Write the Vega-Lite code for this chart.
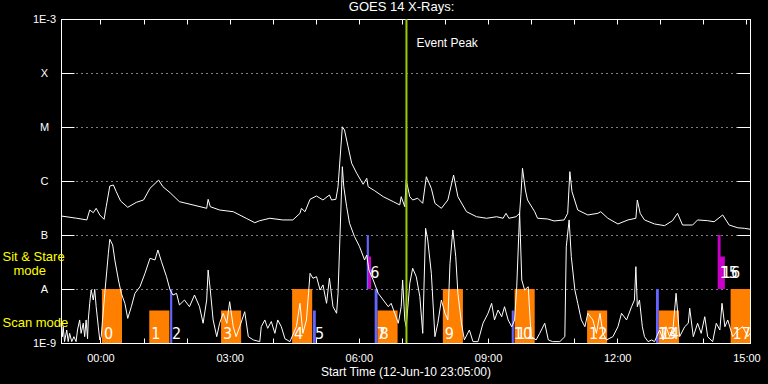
{
"$schema":"https://vega.github.io/schema/vega-lite/v6.json",
"autosize":{"type":"none"},
"padding":{"left":61,"top":19,"right":18,"bottom":41},
"width":689,"height":324,
"background":"black",
"title":{"text":"GOES 14 X-Rays:","color":"white","font":"Liberation Sans","fontSize":13,"fontWeight":"normal","anchor":"middle","frame":"group","offset":-11,"baseline":"alphabetic","dx":-4},
"config":{
 "view":{"stroke":"white","strokeWidth":1},
 "axis":{"domainColor":"white","tickColor":"white","labelColor":"white","titleColor":"white","labelFont":"Liberation Sans","titleFont":"Liberation Sans","labelFontSize":11,"titleFontWeight":"normal","gridColor":"white","gridDash":[1,4],"gridOpacity":1,"zindex":1,"labelOverlap":false,"labelFlush":false}
},
"datasets":{
"long":[
{"t":"2010-06-12T23:05Z","v":2.25e-7},{"t":"2010-06-12T23:27Z","v":2.04e-7},{"t":"2010-06-12T23:41Z","v":1.9e-7},{"t":"2010-06-12T23:45Z","v":2.9e-7},{"t":"2010-06-12T23:50Z","v":2.59e-7},{"t":"2010-06-12T23:54Z","v":3.12e-7},{"t":"2010-06-12T23:59Z","v":2.35e-7},
{"t":"2010-06-13T00:05Z","v":1.95e-7},{"t":"2010-06-13T00:08Z","v":3.34e-7},{"t":"2010-06-13T00:13Z","v":8.07e-7},{"t":"2010-06-13T00:18Z","v":8.43e-7},{"t":"2010-06-13T00:22Z","v":6.34e-7},{"t":"2010-06-13T00:28Z","v":4.27e-7},{"t":"2010-06-13T00:38Z","v":3.26e-7},{"t":"2010-06-13T00:50Z","v":4.03e-7},
{"t":"2010-06-13T01:00Z","v":4.45e-7},{"t":"2010-06-13T01:09Z","v":7.32e-7},{"t":"2010-06-13T01:21Z","v":1.04e-6},{"t":"2010-06-13T01:27Z","v":7.84e-7},{"t":"2010-06-13T01:37Z","v":6.07e-7},{"t":"2010-06-13T01:50Z","v":4.14e-7},
{"t":"2010-06-13T02:09Z","v":3.6e-7},{"t":"2010-06-13T02:28Z","v":3.12e-7},{"t":"2010-06-13T02:30Z","v":4.58e-7},{"t":"2010-06-13T02:33Z","v":3.34e-7},{"t":"2010-06-13T02:46Z","v":2.9e-7},
{"t":"2010-06-13T03:05Z","v":2.7e-7},{"t":"2010-06-13T03:23Z","v":2.04e-7},{"t":"2010-06-13T03:35Z","v":1.69e-7},{"t":"2010-06-13T03:42Z","v":1.84e-7},{"t":"2010-06-13T03:56Z","v":2.04e-7},
{"t":"2010-06-13T04:14Z","v":1.9e-7},{"t":"2010-06-13T04:28Z","v":1.9e-7},{"t":"2010-06-13T04:38Z","v":2.52e-7},{"t":"2010-06-13T04:40Z","v":3.12e-7},{"t":"2010-06-13T04:45Z","v":2.7e-7},{"t":"2010-06-13T04:52Z","v":4.58e-7},
{"t":"2010-06-13T05:01Z","v":5.27e-7},{"t":"2010-06-13T05:10Z","v":4.45e-7},{"t":"2010-06-13T05:19Z","v":5.51e-7},{"t":"2010-06-13T05:22Z","v":4.45e-7},{"t":"2010-06-13T05:28Z","v":4.58e-7},{"t":"2010-06-13T05:31Z","v":7.84e-7},{"t":"2010-06-13T05:37Z","v":1.01e-5},{"t":"2010-06-13T05:40Z","v":8.8e-6},{"t":"2010-06-13T05:45Z","v":4.31e-6},{"t":"2010-06-13T05:50Z","v":2.13e-6},{"t":"2010-06-13T05:57Z","v":1.39e-6},
{"t":"2010-06-13T06:06Z","v":8.69e-7},{"t":"2010-06-13T06:11Z","v":1.12e-6},{"t":"2010-06-13T06:13Z","v":7.84e-7},{"t":"2010-06-13T06:22Z","v":6.61e-7},{"t":"2010-06-13T06:34Z","v":5.12e-7},{"t":"2010-06-13T06:48Z","v":4.14e-7},{"t":"2010-06-13T06:57Z","v":3.6e-7},{"t":"2010-06-13T06:59Z","v":5.12e-7},
{"t":"2010-06-13T07:04Z","v":3.34e-7},{"t":"2010-06-13T07:06Z","v":1.04e-6},{"t":"2010-06-13T07:11Z","v":5.12e-7},{"t":"2010-06-13T07:15Z","v":4.45e-7},{"t":"2010-06-13T07:22Z","v":4.79e-7},{"t":"2010-06-13T07:29Z","v":3.86e-7},{"t":"2010-06-13T07:34Z","v":1.2e-6},{"t":"2010-06-13T07:41Z","v":7.32e-7},{"t":"2010-06-13T07:46Z","v":3.86e-7},{"t":"2010-06-13T07:55Z","v":3.12e-7},
{"t":"2010-06-13T08:04Z","v":4.45e-7},{"t":"2010-06-13T08:12Z","v":1.29e-6},{"t":"2010-06-13T08:18Z","v":5.12e-7},{"t":"2010-06-13T08:30Z","v":2.7e-7},{"t":"2010-06-13T08:44Z","v":2.18e-7},{"t":"2010-06-13T08:58Z","v":2.04e-7},
{"t":"2010-06-13T09:12Z","v":2.18e-7},{"t":"2010-06-13T09:21Z","v":2.04e-7},{"t":"2010-06-13T09:25Z","v":2.52e-7},{"t":"2010-06-13T09:29Z","v":2.04e-7},{"t":"2010-06-13T09:39Z","v":2.18e-7},{"t":"2010-06-13T09:44Z","v":2.52e-7},{"t":"2010-06-13T09:46Z","v":5.91e-7},{"t":"2010-06-13T09:48Z","v":1.72e-6},{"t":"2010-06-13T09:52Z","v":6.81e-7},{"t":"2010-06-13T09:55Z","v":4.45e-7},
{"t":"2010-06-13T10:05Z","v":2.7e-7},{"t":"2010-06-13T10:09Z","v":2.04e-7},{"t":"2010-06-13T10:23Z","v":1.98e-7},{"t":"2010-06-13T10:32Z","v":1.82e-7},{"t":"2010-06-13T10:46Z","v":1.9e-7},{"t":"2010-06-13T10:51Z","v":2.52e-7},{"t":"2010-06-13T10:54Z","v":1.49e-6},{"t":"2010-06-13T10:57Z","v":6.34e-7},
{"t":"2010-06-13T11:05Z","v":2.9e-7},{"t":"2010-06-13T11:19Z","v":2.35e-7},{"t":"2010-06-13T11:33Z","v":2.52e-7},{"t":"2010-06-13T11:37Z","v":2.7e-7},{"t":"2010-06-13T11:47Z","v":2.04e-7},
{"t":"2010-06-13T12:01Z","v":1.6e-7},{"t":"2010-06-13T12:15Z","v":1.9e-7},{"t":"2010-06-13T12:26Z","v":2.04e-7},{"t":"2010-06-13T12:28Z","v":4.45e-7},{"t":"2010-06-13T12:32Z","v":2.52e-7},{"t":"2010-06-13T12:38Z","v":1.9e-7},{"t":"2010-06-13T12:52Z","v":1.6e-7},
{"t":"2010-06-13T13:06Z","v":1.49e-7},{"t":"2010-06-13T13:17Z","v":1.84e-7},{"t":"2010-06-13T13:24Z","v":2.52e-7},{"t":"2010-06-13T13:31Z","v":1.53e-7},{"t":"2010-06-13T13:45Z","v":1.53e-7},{"t":"2010-06-13T13:52Z","v":1.9e-7},
{"t":"2010-06-13T14:06Z","v":1.84e-7},{"t":"2010-06-13T14:15Z","v":1.76e-7},{"t":"2010-06-13T14:27Z","v":2.35e-7},{"t":"2010-06-13T14:36Z","v":1.53e-7},{"t":"2010-06-13T14:48Z","v":1.36e-7},{"t":"2010-06-13T14:57Z","v":1.33e-7},{"t":"2010-06-13T15:05Z","v":1.28e-7}
],
"short":[
{"t":"2010-06-12T23:05Z","v":2.32e-9},{"t":"2010-06-12T23:07Z","v":1.31e-9},{"t":"2010-06-12T23:08Z","v":2.0e-9},{"t":"2010-06-12T23:10Z","v":1.06e-9},{"t":"2010-06-12T23:13Z","v":1.74e-9},{"t":"2010-06-12T23:15Z","v":1.06e-9},{"t":"2010-06-12T23:17Z","v":1.51e-9},{"t":"2010-06-12T23:20Z","v":1.06e-9},{"t":"2010-06-12T23:23Z","v":1.31e-9},{"t":"2010-06-12T23:26Z","v":1.06e-9},{"t":"2010-06-12T23:28Z","v":1.74e-9},{"t":"2010-06-12T23:31Z","v":2.67e-9},{"t":"2010-06-12T23:33Z","v":1.51e-9},{"t":"2010-06-12T23:36Z","v":2.32e-9},{"t":"2010-06-12T23:38Z","v":1.31e-9},{"t":"2010-06-12T23:40Z","v":2.67e-9},{"t":"2010-06-12T23:42Z","v":1.2e-9},{"t":"2010-06-12T23:43Z","v":2.67e-9},{"t":"2010-06-12T23:45Z","v":5.43e-9},{"t":"2010-06-12T23:47Z","v":9.58e-9},{"t":"2010-06-12T23:50Z","v":6.25e-9},{"t":"2010-06-12T23:52Z","v":9.87e-9},{"t":"2010-06-12T23:54Z","v":4.7e-9},{"t":"2010-06-12T23:57Z","v":2.0e-9},{"t":"2010-06-12T23:59Z","v":1.14e-9},
{"t":"2010-06-13T00:01Z","v":1.31e-9},{"t":"2010-06-13T00:06Z","v":8.32e-9},{"t":"2010-06-13T00:11Z","v":4.58e-8},{"t":"2010-06-13T00:13Z","v":8.32e-8},{"t":"2010-06-13T00:17Z","v":6.53e-8},{"t":"2010-06-13T00:20Z","v":3.45e-8},{"t":"2010-06-13T00:25Z","v":1.47e-8},{"t":"2010-06-13T00:29Z","v":8.32e-9},{"t":"2010-06-13T00:34Z","v":5.43e-9},{"t":"2010-06-13T00:38Z","v":2.86e-9},{"t":"2010-06-13T00:43Z","v":4.7e-9},{"t":"2010-06-13T00:48Z","v":8.32e-9},{"t":"2010-06-13T00:55Z","v":1.1e-8},
{"t":"2010-06-13T01:02Z","v":1.95e-8},{"t":"2010-06-13T01:09Z","v":3.7e-8},{"t":"2010-06-13T01:16Z","v":3.45e-8},{"t":"2010-06-13T01:20Z","v":5.27e-8},{"t":"2010-06-13T01:25Z","v":3.21e-8},{"t":"2010-06-13T01:32Z","v":1.69e-8},{"t":"2010-06-13T01:37Z","v":9.58e-9},{"t":"2010-06-13T01:41Z","v":7.74e-9},{"t":"2010-06-13T01:46Z","v":8.32e-9},{"t":"2010-06-13T01:50Z","v":5.06e-9},{"t":"2010-06-13T01:57Z","v":6.25e-9},
{"t":"2010-06-13T02:04Z","v":4.7e-9},{"t":"2010-06-13T02:11Z","v":7.74e-9},{"t":"2010-06-13T02:18Z","v":4.7e-9},{"t":"2010-06-13T02:23Z","v":2.32e-9},{"t":"2010-06-13T02:28Z","v":6.25e-9},{"t":"2010-06-13T02:30Z","v":2.25e-8},{"t":"2010-06-13T02:33Z","v":9.58e-9},{"t":"2010-06-13T02:37Z","v":2.67e-9},{"t":"2010-06-13T02:42Z","v":1.31e-9},{"t":"2010-06-13T02:46Z","v":2.32e-9},{"t":"2010-06-13T02:51Z","v":3.55e-9},{"t":"2010-06-13T02:56Z","v":2.32e-9},
{"t":"2010-06-13T03:00Z","v":5.82e-9},{"t":"2010-06-13T03:05Z","v":2.0e-9},{"t":"2010-06-13T03:09Z","v":1.31e-9},{"t":"2010-06-13T03:14Z","v":2.0e-9},{"t":"2010-06-13T03:21Z","v":3.8e-9},{"t":"2010-06-13T03:26Z","v":1.31e-9},{"t":"2010-06-13T03:33Z","v":1.14e-9},{"t":"2010-06-13T03:42Z","v":1.06e-9},{"t":"2010-06-13T03:44Z","v":2.0e-9},{"t":"2010-06-13T03:49Z","v":2.67e-9},{"t":"2010-06-13T03:53Z","v":1.87e-9},{"t":"2010-06-13T03:58Z","v":2.5e-9},
{"t":"2010-06-13T04:03Z","v":1.51e-9},{"t":"2010-06-13T04:07Z","v":2.67e-9},{"t":"2010-06-13T04:12Z","v":2.0e-9},{"t":"2010-06-13T04:17Z","v":1.2e-9},{"t":"2010-06-13T04:24Z","v":1.06e-9},{"t":"2010-06-13T04:33Z","v":2.0e-9},{"t":"2010-06-13T04:38Z","v":5.43e-9},{"t":"2010-06-13T04:42Z","v":1.51e-9},{"t":"2010-06-13T04:47Z","v":2.67e-9},{"t":"2010-06-13T04:52Z","v":1.95e-8},{"t":"2010-06-13T04:56Z","v":1.58e-8},
{"t":"2010-06-13T05:01Z","v":1.69e-8},{"t":"2010-06-13T05:06Z","v":9.58e-9},{"t":"2010-06-13T05:10Z","v":1.19e-8},{"t":"2010-06-13T05:15Z","v":5.43e-9},{"t":"2010-06-13T05:19Z","v":1.58e-8},{"t":"2010-06-13T05:24Z","v":4.7e-9},{"t":"2010-06-13T05:29Z","v":3.55e-9},{"t":"2010-06-13T05:31Z","v":8.32e-9},{"t":"2010-06-13T05:34Z","v":1.24e-7},{"t":"2010-06-13T05:37Z","v":1.84e-6},{"t":"2010-06-13T05:39Z","v":7.84e-7},{"t":"2010-06-13T05:43Z","v":3.34e-7},{"t":"2010-06-13T05:47Z","v":1.65e-7},{"t":"2010-06-13T05:54Z","v":9.3e-8},
{"t":"2010-06-13T06:01Z","v":6.07e-8},{"t":"2010-06-13T06:08Z","v":3.45e-8},{"t":"2010-06-13T06:11Z","v":4.26e-8},{"t":"2010-06-13T06:14Z","v":2.25e-8},{"t":"2010-06-13T06:20Z","v":1.47e-8},{"t":"2010-06-13T06:27Z","v":8.32e-9},{"t":"2010-06-13T06:34Z","v":6.25e-9},{"t":"2010-06-13T06:41Z","v":4.7e-9},{"t":"2010-06-13T06:45Z","v":5.43e-9},{"t":"2010-06-13T06:50Z","v":3.55e-9},{"t":"2010-06-13T06:55Z","v":2.32e-9},{"t":"2010-06-13T06:59Z","v":4.7e-9},
{"t":"2010-06-13T07:01Z","v":1.47e-8},{"t":"2010-06-13T07:04Z","v":2.67e-9},{"t":"2010-06-13T07:06Z","v":2.0e-9},{"t":"2010-06-13T07:11Z","v":1.28e-8},{"t":"2010-06-13T07:15Z","v":2.42e-8},{"t":"2010-06-13T07:20Z","v":1.69e-8},{"t":"2010-06-13T07:25Z","v":7.2e-9},{"t":"2010-06-13T07:29Z","v":1.51e-9},{"t":"2010-06-13T07:33Z","v":1.33e-7},{"t":"2010-06-13T07:36Z","v":8.07e-8},{"t":"2010-06-13T07:41Z","v":1.95e-8},{"t":"2010-06-13T07:46Z","v":1.31e-9},{"t":"2010-06-13T07:50Z","v":2.32e-9},{"t":"2010-06-13T07:55Z","v":6.25e-9},
{"t":"2010-06-13T08:00Z","v":3.55e-9},{"t":"2010-06-13T08:04Z","v":2.67e-9},{"t":"2010-06-13T08:07Z","v":2.99e-8},{"t":"2010-06-13T08:11Z","v":1.24e-7},{"t":"2010-06-13T08:15Z","v":3.97e-8},{"t":"2010-06-13T08:18Z","v":8.32e-9},{"t":"2010-06-13T08:23Z","v":2.32e-9},{"t":"2010-06-13T08:27Z","v":1.14e-9},{"t":"2010-06-13T08:34Z","v":1.74e-9},{"t":"2010-06-13T08:39Z","v":1.06e-9},{"t":"2010-06-13T08:46Z","v":1.06e-9},{"t":"2010-06-13T08:53Z","v":2.32e-9},
{"t":"2010-06-13T09:00Z","v":3.55e-9},{"t":"2010-06-13T09:05Z","v":5.43e-9},{"t":"2010-06-13T09:09Z","v":2.67e-9},{"t":"2010-06-13T09:14Z","v":4.08e-9},{"t":"2010-06-13T09:19Z","v":3.07e-9},{"t":"2010-06-13T09:23Z","v":4.7e-9},{"t":"2010-06-13T09:28Z","v":2.67e-9},{"t":"2010-06-13T09:33Z","v":2.0e-9},{"t":"2010-06-13T09:37Z","v":2.67e-9},{"t":"2010-06-13T09:40Z","v":1.1e-8},{"t":"2010-06-13T09:44Z","v":2.6e-7},{"t":"2010-06-13T09:47Z","v":1.47e-8},{"t":"2010-06-13T09:51Z","v":9.58e-9},{"t":"2010-06-13T09:56Z","v":1.1e-8},
{"t":"2010-06-13T10:00Z","v":1.31e-9},{"t":"2010-06-13T10:07Z","v":1.14e-9},{"t":"2010-06-13T10:12Z","v":1.51e-9},{"t":"2010-06-13T10:19Z","v":2.32e-9},{"t":"2010-06-13T10:24Z","v":1.14e-9},{"t":"2010-06-13T10:30Z","v":1.06e-9},{"t":"2010-06-13T10:40Z","v":1.06e-9},{"t":"2010-06-13T10:47Z","v":1.31e-9},{"t":"2010-06-13T10:49Z","v":6.07e-8},{"t":"2010-06-13T10:53Z","v":1.9e-7},{"t":"2010-06-13T10:56Z","v":3.97e-8},
{"t":"2010-06-13T11:01Z","v":9.58e-9},{"t":"2010-06-13T11:05Z","v":5.43e-9},{"t":"2010-06-13T11:10Z","v":2.67e-9},{"t":"2010-06-13T11:15Z","v":2.0e-9},{"t":"2010-06-13T11:19Z","v":3.55e-9},{"t":"2010-06-13T11:26Z","v":2.67e-9},{"t":"2010-06-13T11:31Z","v":1.51e-9},{"t":"2010-06-13T11:36Z","v":3.55e-9},{"t":"2010-06-13T11:40Z","v":1.51e-9},{"t":"2010-06-13T11:45Z","v":1.14e-9},{"t":"2010-06-13T11:54Z","v":1.31e-9},
{"t":"2010-06-13T12:01Z","v":2.0e-9},{"t":"2010-06-13T12:06Z","v":3.55e-9},{"t":"2010-06-13T12:13Z","v":2.67e-9},{"t":"2010-06-13T12:20Z","v":4.7e-9},{"t":"2010-06-13T12:24Z","v":6.25e-9},{"t":"2010-06-13T12:26Z","v":2.59e-8},{"t":"2010-06-13T12:28Z","v":4.7e-9},{"t":"2010-06-13T12:31Z","v":6.25e-9},{"t":"2010-06-13T12:35Z","v":2.0e-9},{"t":"2010-06-13T12:38Z","v":1.31e-9},{"t":"2010-06-13T12:43Z","v":1.06e-9},{"t":"2010-06-13T12:48Z","v":1.14e-9},{"t":"2010-06-13T12:52Z","v":1.06e-9},{"t":"2010-06-13T12:59Z","v":1.74e-9},
{"t":"2010-06-13T13:04Z","v":1.14e-9},{"t":"2010-06-13T13:08Z","v":2.0e-9},{"t":"2010-06-13T13:13Z","v":1.31e-9},{"t":"2010-06-13T13:18Z","v":2.0e-9},{"t":"2010-06-13T13:22Z","v":8.32e-9},{"t":"2010-06-13T13:27Z","v":1.31e-9},{"t":"2010-06-13T13:34Z","v":2.0e-9},{"t":"2010-06-13T13:39Z","v":2.32e-9},{"t":"2010-06-13T13:41Z","v":4.39e-9},{"t":"2010-06-13T13:46Z","v":1.31e-9},{"t":"2010-06-13T13:52Z","v":2.32e-9},{"t":"2010-06-13T13:57Z","v":1.51e-9},
{"t":"2010-06-13T14:02Z","v":3.07e-9},{"t":"2010-06-13T14:06Z","v":1.31e-9},{"t":"2010-06-13T14:13Z","v":1.06e-9},{"t":"2010-06-13T14:18Z","v":2.32e-9},{"t":"2010-06-13T14:23Z","v":1.74e-9},{"t":"2010-06-13T14:26Z","v":5.43e-9},{"t":"2010-06-13T14:30Z","v":2.0e-9},{"t":"2010-06-13T14:34Z","v":2.67e-9},{"t":"2010-06-13T14:41Z","v":1.31e-9},{"t":"2010-06-13T14:48Z","v":1.74e-9},{"t":"2010-06-13T14:55Z","v":2.0e-9},{"t":"2010-06-13T15:02Z","v":1.31e-9},{"t":"2010-06-13T15:05Z","v":1.51e-9}
],
"events":[
{"id":"0","kind":"scan","s":"2010-06-13T00:02Z","e":"2010-06-13T00:30Z","lo":1e-9,"hi":1e-8},
{"id":"1","kind":"scan","s":"2010-06-13T01:08Z","e":"2010-06-13T01:36Z","lo":1e-9,"hi":4e-9},
{"id":"2","kind":"short","s":"2010-06-13T01:37Z","e":"2010-06-13T01:40Z","lo":1e-9,"hi":1e-8},
{"id":"3","kind":"scan","s":"2010-06-13T02:48Z","e":"2010-06-13T03:16Z","lo":1e-9,"hi":4e-9},
{"id":"4","kind":"scan","s":"2010-06-13T04:27Z","e":"2010-06-13T04:55Z","lo":1e-9,"hi":1e-8},
{"id":"5","kind":"short","s":"2010-06-13T04:56Z","e":"2010-06-13T05:00Z","lo":1e-9,"hi":4e-9},
{"id":"","kind":"short","s":"2010-06-13T06:11Z","e":"2010-06-13T06:14Z","lo":1e-8,"hi":1e-7},
{"id":"6","kind":"sit","s":"2010-06-13T06:13Z","e":"2010-06-13T06:17Z","lo":1e-8,"hi":4e-8},
{"id":"7","kind":"short","s":"2010-06-13T06:22Z","e":"2010-06-13T06:26Z","lo":1e-9,"hi":1e-8},
{"id":"8","kind":"scan","s":"2010-06-13T06:26Z","e":"2010-06-13T06:54Z","lo":1e-9,"hi":4e-9},
{"id":"9","kind":"scan","s":"2010-06-13T07:57Z","e":"2010-06-13T08:25Z","lo":1e-9,"hi":1e-8},
{"id":"10","kind":"short","s":"2010-06-13T09:33Z","e":"2010-06-13T09:36Z","lo":1e-9,"hi":4e-9},
{"id":"11","kind":"scan","s":"2010-06-13T09:37Z","e":"2010-06-13T10:05Z","lo":1e-9,"hi":1e-8},
{"id":"12","kind":"scan","s":"2010-06-13T11:18Z","e":"2010-06-13T11:46Z","lo":1e-9,"hi":4e-9},
{"id":"13","kind":"short","s":"2010-06-13T12:54Z","e":"2010-06-13T12:58Z","lo":1e-9,"hi":1e-8},
{"id":"14","kind":"scan","s":"2010-06-13T12:58Z","e":"2010-06-13T13:26Z","lo":1e-9,"hi":4e-9},
{"id":"15","kind":"sit","s":"2010-06-13T14:20Z","e":"2010-06-13T14:24Z","lo":1e-8,"hi":1e-7},
{"id":"16","kind":"sit","s":"2010-06-13T14:23Z","e":"2010-06-13T14:30Z","lo":1e-8,"hi":4e-8},
{"id":"17","kind":"scan","s":"2010-06-13T14:38Z","e":"2010-06-13T15:05Z","lo":1e-9,"hi":1e-8}
],
"peak":[{"t":"2010-06-13T07:06:20Z","label":"Event Peak"}],
"modes":[{"mode":"Sit & Stare","lv":3.92e-8},{"mode":"mode","lv":2.2e-8},{"mode":"Scan mode","lv":2.4e-9}]
},
"resolve":{"axis":{"x":"independent","y":"independent"}},
"layer":[
{"data":{"name":"events"},"mark":{"type":"rect"},
 "encoding":{
  "x":{"field":"s","type":"temporal","scale":{"type":"utc","nice":false,"domain":[{"year":2010,"month":6,"date":12,"hours":23,"minutes":5,"utc":true},{"year":2010,"month":6,"date":13,"hours":15,"minutes":5,"utc":true}]},"axis":null},
  "x2":{"field":"e"},
  "y":{"field":"lo","type":"quantitative","scale":{"type":"log","domain":[1e-9,1e-3],"nice":false},"axis":null},
  "y2":{"field":"hi"},
  "color":{"field":"kind","type":"nominal","scale":{"domain":["scan","short","sit"],"range":["#ff8000","#6464ff","#c800c8"]},"legend":null}
 }},
{"data":{"name":"long"},"mark":{"type":"line","color":"white","strokeWidth":1},
 "encoding":{
  "x":{"field":"t","type":"temporal","axis":{"orient":"bottom","values":[{"year":2010,"month":6,"date":13,"hours":0,"utc":true},{"year":2010,"month":6,"date":13,"hours":1,"utc":true},{"year":2010,"month":6,"date":13,"hours":2,"utc":true},{"year":2010,"month":6,"date":13,"hours":3,"utc":true},{"year":2010,"month":6,"date":13,"hours":4,"utc":true},{"year":2010,"month":6,"date":13,"hours":5,"utc":true},{"year":2010,"month":6,"date":13,"hours":6,"utc":true},{"year":2010,"month":6,"date":13,"hours":7,"utc":true},{"year":2010,"month":6,"date":13,"hours":8,"utc":true},{"year":2010,"month":6,"date":13,"hours":9,"utc":true},{"year":2010,"month":6,"date":13,"hours":10,"utc":true},{"year":2010,"month":6,"date":13,"hours":11,"utc":true},{"year":2010,"month":6,"date":13,"hours":12,"utc":true},{"year":2010,"month":6,"date":13,"hours":13,"utc":true},{"year":2010,"month":6,"date":13,"hours":14,"utc":true},{"year":2010,"month":6,"date":13,"hours":15,"utc":true}],
   "labelExpr":"utchours(datum.value) % 3 == 0 ? utcFormat(datum.value, '%H:%M') : ''","tickSize":-5,"labelPadding":14,"grid":false,
   "title":"Start Time (12-Jun-10 23:05:00)","titleFontSize":12,"titlePadding":3}},
  "y":{"field":"v","type":"quantitative","axis":{"orient":"left","values":[1e-9,1e-8,1e-7,1e-6,1e-5,1e-4,1e-3],
   "labelExpr":"datum.value < 3e-9 ? '1E-9' : datum.value < 3e-8 ? 'A' : datum.value < 3e-7 ? 'B' : datum.value < 3e-6 ? 'C' : datum.value < 3e-5 ? 'M' : datum.value < 3e-4 ? 'X' : '1E-3'",
   "tickSize":-13,"labelPadding":30,"labelAlign":"center","labelBaseline":"middle","grid":true,"title":null}}
 }},
{"data":{"name":"short"},"mark":{"type":"line","color":"white","strokeWidth":1},
 "encoding":{
  "x":{"field":"t","type":"temporal","axis":{"orient":"top","values":[{"year":2010,"month":6,"date":13,"hours":0,"utc":true},{"year":2010,"month":6,"date":13,"hours":1,"utc":true},{"year":2010,"month":6,"date":13,"hours":2,"utc":true},{"year":2010,"month":6,"date":13,"hours":3,"utc":true},{"year":2010,"month":6,"date":13,"hours":4,"utc":true},{"year":2010,"month":6,"date":13,"hours":5,"utc":true},{"year":2010,"month":6,"date":13,"hours":6,"utc":true},{"year":2010,"month":6,"date":13,"hours":7,"utc":true},{"year":2010,"month":6,"date":13,"hours":8,"utc":true},{"year":2010,"month":6,"date":13,"hours":9,"utc":true},{"year":2010,"month":6,"date":13,"hours":10,"utc":true},{"year":2010,"month":6,"date":13,"hours":11,"utc":true},{"year":2010,"month":6,"date":13,"hours":12,"utc":true},{"year":2010,"month":6,"date":13,"hours":13,"utc":true},{"year":2010,"month":6,"date":13,"hours":14,"utc":true},{"year":2010,"month":6,"date":13,"hours":15,"utc":true}],
   "labels":false,"tickSize":-5,"grid":false,"title":null}},
  "y":{"field":"v","type":"quantitative","axis":{"orient":"right","values":[1e-9,1e-8,1e-7,1e-6,1e-5,1e-4,1e-3],"labels":false,"tickSize":-13,"grid":false,"title":null}}
 }},
{"data":{"name":"peak"},"mark":{"type":"rule","color":"#9acd00","strokeWidth":2},
 "encoding":{"x":{"field":"t","type":"temporal","axis":null}}},
{"data":{"name":"peak"},"mark":{"type":"text","color":"white","font":"Liberation Sans","fontSize":12,"align":"left","baseline":"alphabetic","dx":10},
 "encoding":{"x":{"field":"t","type":"temporal","axis":null},"y":{"datum":3.07e-4,"axis":null},"text":{"field":"label"}}},
{"data":{"name":"events"},"transform":[{"filter":"datum.lo < 5e-9 && datum.id != ''"}],
 "mark":{"type":"text","color":"white","font":"Liberation Sans Narrow, DejaVu Sans Condensed, Liberation Sans","fontSize":16,"align":"left","baseline":"alphabetic","dx":2},
 "encoding":{"x":{"field":"s","type":"temporal","axis":null},"y":{"datum":1.19e-9,"axis":null},"text":{"field":"id"}}},
{"data":{"name":"events"},"transform":[{"filter":"datum.lo >= 5e-9 && datum.id != ''"}],
 "mark":{"type":"text","color":"white","font":"Liberation Sans Narrow, DejaVu Sans Condensed, Liberation Sans","fontSize":16,"align":"left","baseline":"alphabetic","dx":2},
 "encoding":{"x":{"field":"s","type":"temporal","axis":null},"y":{"datum":1.58e-8,"axis":null},"text":{"field":"id"}}},
{"data":{"name":"modes"},"mark":{"type":"rule","opacity":0},
 "encoding":{"y":{"field":"lv","type":"quantitative","axis":{"orient":"left","values":[2.4e-9,3.92e-8],
   "labelExpr":"datum.value > 3e-8 ? 'Sit & Stare' : 'Scan mode'",
   "labelColor":"#ffff00","labelAlign":"left","labelBaseline":"middle","labelFontSize":13,"ticks":false,"domain":false,"grid":false,"labelPadding":59,"title":null}}}},
{"data":{"name":"modes"},"mark":{"type":"rule","opacity":0},
 "encoding":{"y":{"field":"lv","type":"quantitative","axis":{"orient":"left","values":[2.2e-8],
   "labelExpr":"'mode'",
   "labelColor":"#ffff00","labelAlign":"left","labelBaseline":"middle","labelFontSize":13,"ticks":false,"domain":false,"grid":false,"labelPadding":48,"title":null}}}}
]
}
